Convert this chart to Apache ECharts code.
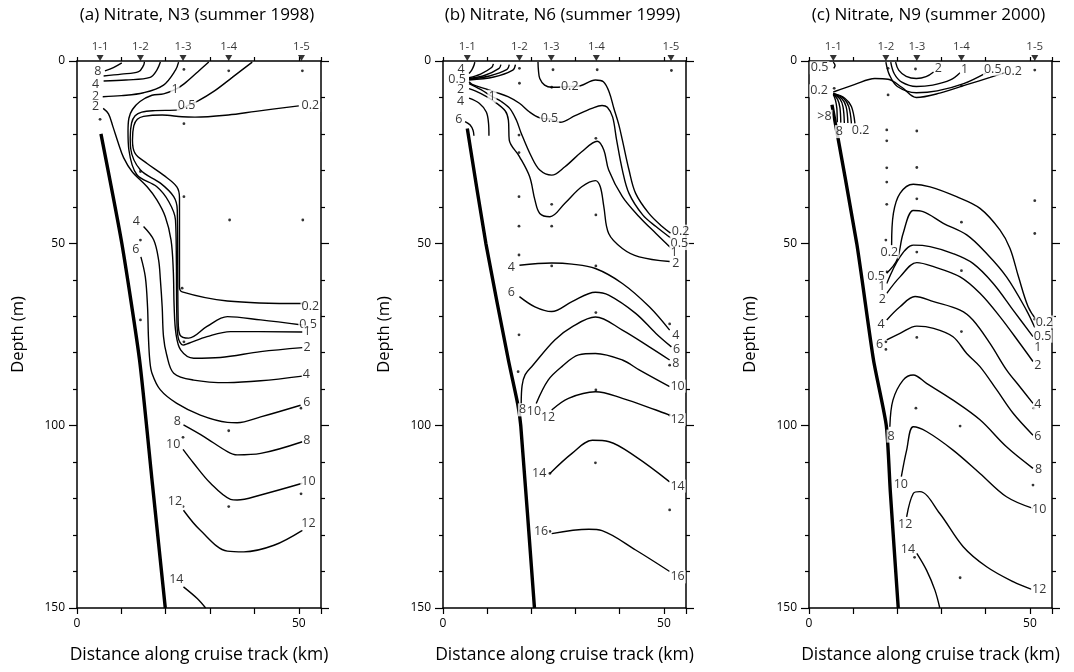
<!DOCTYPE html>
<html>
<head>
<meta charset="utf-8">
<title>Nitrate sections N3, N6, N9</title>
<script src="https://cdn.jsdelivr.net/npm/echarts@6/dist/echarts.min.js"></script>
<style>
  html, body { margin: 0; padding: 0; background: #fff; }
  #chart { width: 1074px; height: 672px; }
</style>
</head>
<body>
<div id="chart"></div>
<script>
// ---- data (km along track, depth in m) ----
const panelTitles = ['(a) Nitrate, N3 (summer 1998)', '(b) Nitrate, N6 (summer 1999)', '(c) Nitrate, N9 (summer 2000)']
const stationNames = ['1-1', '1-2', '1-3', '1-4', '1-5']
const distanceLabels = [0, 50]

const stationKmA = [5.2, 14.3, 23.9, 34.2, 50.6]
const stationKmB = [5.5, 17.3, 24.5, 34.7, 51.6]
const stationKmC = [5.5, 17.4, 24.4, 34.5, 51.1]

const bottomA = [[5.4, 20], [10.1, 50], [14.1, 82], [17, 116], [19.9, 150]]
const bottomB = [[5.5, 18.5], [9.7, 50], [14.8, 82], [16.9, 94], [17.6, 100], [20.7, 150]]
const bottomC = [[5.2, 12], [10.8, 50], [14.6, 82], [17.5, 100], [18.4, 118], [20.2, 150]]

// sample depths
const bottlesA = [[5.2, 16], [14.3, 30.3], [14.3, 49.1], [14.3, 71], [24.1, 2.3], [24.1, 17.2], [24.1, 37.2], [23.7, 62.3], [24.1, 77], [23.9, 103.2], [23.9, 122.2], [34.2, 2.7], [34.4, 43.6], [34.2, 101.4], [34.2, 122.2], [50.8, 2.7], [50.9, 43.6], [50.9, 66.5], [50.5, 95.2], [50.5, 118.7]]
const bottlesB = [[17.3, 2], [17.3, 6.1], [17.2, 20.3], [17.2, 25.1], [17.2, 37.2], [17.2, 45.3], [17.2, 53.2], [17.2, 75.1], [17, 85.2], [24.9, 2.4], [24.6, 7.2], [24.6, 39.3], [24.6, 45.3], [24.6, 56.2], [24.2, 113.1], [24.2, 129], [34.9, 2.4], [34.6, 21.2], [34.6, 42.2], [34.6, 56.2], [34.6, 69], [34.6, 90.2], [34.5, 110.2], [51.7, 2.6], [51.3, 72.1], [51.3, 83.4], [51.3, 97.1], [51.3, 123.1]]
const bottlesC = [[5.7, 7.5], [17.9, 2], [17.9, 9.3], [17.6, 18.9], [17.6, 21.9], [17.6, 29.3], [17.6, 33.2], [17.6, 39.3], [17.4, 49.1], [17.6, 57.8], [17.4, 77], [17.4, 79.1], [24.1, 2.2], [24.4, 19.2], [24.4, 29.2], [24.4, 37.8], [24.4, 52.4], [24.4, 75.8], [24.2, 95.2], [23.9, 136.1], [34.5, 6.8], [34.5, 44.2], [34.5, 57.5], [34.5, 74.2], [34.2, 100.1], [34.2, 141.7], [51.1, 2.5], [51.1, 38.3], [51.1, 47.3], [51.1, 70.8], [50.9, 95.2], [50.7, 116.3]]

// contour lines, panel (a)
const contoursA = [
  [[6.3, 2.7], [8.2, 1.8], [10.1, 0.5]],
  [[6.0, 4.1], [10, 3.6], [13.9, 2.9], [15.0, 1.2], [15.2, 0.2]],
  [[6.0, 5.5], [11, 5.2], [16.5, 4.5], [18, 2.5], [18.8, 0.3]],
  [[5.8, 9.8], [10, 9.5], [15, 8.7], [19.5, 6.6], [22.2, 2.5], [22.9, 0.3]],
  [[5.9, 13], [7.1, 14.5], [8.1, 18], [9.3, 22.5], [10.5, 26.5], [12.4, 30.3], [15.8, 34.5], [18, 38.1], [19.9, 42.7], [21.2, 49.1], [21.7, 57.3], [21.9, 67.4], [22.3, 74.7], [23.4, 79.3], [26.3, 81.5], [32.3, 81.3], [41.4, 79.7], [50.8, 78.6]],
  [[29.7, 0.3], [27.2, 3], [24.2, 6.2], [22.2, 7.8], [19.5, 9], [16.9, 9.4], [14.2, 11.1], [12.5, 13.3], [11.7, 15.7], [11.5, 19.4], [11.7, 24.4], [13.5, 31.2], [18, 34.5], [20.7, 38.6], [22.2, 43.6], [22.4, 55], [22.5, 70], [22.8, 75.8], [23.9, 77.9], [25.2, 77.4], [29.3, 75.6], [34.6, 74.2], [50.8, 74.3]],
  [[39.5, 0.3], [35, 4.5], [31, 8.2], [27.2, 11], [24.8, 12.3], [22.9, 13.4], [17.6, 13.6], [14.6, 14], [13.1, 15], [12.3, 17], [12, 21], [12.1, 24], [14.3, 29.9], [18.8, 33.5], [21.8, 37.2], [22.6, 40.8], [22.8, 71], [23.2, 75.1], [25.2, 76], [29.3, 72.8], [33.9, 70.1], [41.4, 71], [50.8, 72.4]],
  [[50, 12.3], [40.3, 13.8], [34.1, 14.8], [26.6, 15.4], [23.7, 15.3], [19.2, 14.8], [15, 15.2], [13.6, 16], [12.8, 17.8], [12.5, 21.7], [13.1, 25.3], [15.8, 28.1], [19.5, 31.3], [22.5, 34.5], [23.1, 37.5], [23.1, 61.9], [23.7, 63.3], [33.9, 65.8], [50.8, 66.5]],
  [[15, 45.4], [17.3, 49.1], [18.4, 54.6], [18.8, 60.1], [19.2, 67.4], [19.5, 75.6], [20.2, 80.5], [21.8, 85.6], [26.3, 87.5], [33.9, 88.2], [41.4, 87.7], [50.8, 86.4]],
  [[14.4, 53.7], [15.4, 59.2], [15.9, 67.4], [16.1, 75.6], [16.4, 82], [16.9, 85.6], [18.8, 90.2], [22.5, 93.9], [27.8, 97.1], [33.9, 99.1], [36.1, 99.2], [41.4, 97.6], [50.4, 94.4]],
  [[24, 99.8], [28.6, 103], [33.9, 107.1], [36.1, 108], [41.4, 107.6], [50.8, 104.4]],
  [[23.9, 106.5], [26.3, 110.3], [30.1, 115.8], [34.6, 120.2], [36.1, 120.4], [41.4, 119], [50.8, 115.8]],
  [[24, 123.2], [27.8, 128.7], [33.9, 134.4], [37.6, 134.6], [44.4, 132.8], [50.8, 128.7]],
  [[24, 144.2], [27.1, 147.4], [29, 150]]
]
const labelsA = [[4.8, 2.9, '8'], [4.3, 6.6, '4'], [4.3, 9.8, '2'], [4.3, 12.5, '2'], [22.2, 7.8, '1'], [24.8, 12.3, '0.5'], [52.7, 12.3, '0.2'],
  [52.7, 67.4, '0.2'], [52.2, 72.4, '0.5'], [52, 74.4, '1'], [52, 78.6, '2'], [13.5, 44.1, '4'], [51.8, 86.1, '4'], [13.4, 51.8, '6'], [51.9, 93.7, '6'],
  [22.7, 98.9, '8'], [51.9, 104.2, '8'], [21.8, 105.3, '10'], [52.3, 115.4, '10'], [22.2, 120.9, '12'], [52.3, 127, '12'], [22.5, 142.3, '14']]

// contour lines, panel (b)
const contoursB = [
  [[5.9, 3.4], [6.5, 2.5], [7, 1.2], [7.2, 0.3]],
  [[5.9, 4.6], [8.5, 3.6], [11, 1.8], [11.4, 0.8]],
  [[5.9, 4.8], [9.5, 3.9], [12.7, 2], [13.1, 1]],
  [[5.9, 5], [10.5, 4.1], [14.5, 2.3], [15, 1]],
  [[5.9, 5.2], [11.5, 4.4], [15.8, 2.5], [16.4, 1]],
  [[5.9, 5.7], [6.6, 6.4], [9.3, 7.5], [12, 8.6], [14.7, 9.8], [17.3, 11.6], [19.6, 14], [21.9, 15.6], [24.2, 15.9], [26.5, 16.8], [29.9, 15], [33.7, 13], [36, 12.2], [37.2, 12.7], [38.4, 15.4], [39.3, 21.7], [40.6, 29.9], [42.1, 36.3], [45.2, 42.2], [48.2, 45.4], [51.6, 48.6]],
  [[21.5, 0.3], [21.6, 2.5], [21.9, 4.8], [23, 6.6], [24.6, 7.2], [28.8, 7], [31.1, 6.8], [34.5, 5.2], [36.3, 5.7], [37.6, 8.5], [38.7, 13.1], [39.8, 17.5], [40.6, 21.7], [42.1, 29.9], [43.6, 36.3], [46.6, 41.8], [49.6, 45.4], [51.5, 47.2]],
  [[5.9, 6.2], [8.5, 7.8], [11.2, 9.8], [13.2, 11.1], [15.1, 13], [16.6, 16.2], [17.7, 19.8], [20, 26.2], [21.9, 29.9], [24.6, 31.3], [27.6, 29], [31.4, 24.9], [34.9, 22], [36.4, 24.4], [37.5, 29.9], [40.6, 37.2], [44.4, 42.7], [48.2, 47.3], [51.7, 51.4]],
  [[5.9, 7.6], [8.5, 8.9], [11.6, 11.1], [14.1, 13.7], [14.8, 16.2], [15, 21.7], [17.3, 26.2], [19.6, 31.7], [20.8, 38.1], [21.9, 41.8], [24.2, 42.7], [27.6, 39], [31.4, 34.5], [34.5, 32.8], [35.6, 34.5], [36.4, 39.9], [37.5, 47.3], [40.6, 51.4], [44.4, 53.7], [51.3, 55]],
  [[5.9, 10.2], [8.2, 11.6], [9.8, 14], [10.3, 17], [10.4, 20.5]],
  [[5, 16.6], [6.1, 17.5], [6.8, 19], [7, 20.5]],
  [[17.3, 56], [24.6, 55.4], [29.2, 55.7], [34.5, 56.9], [40.6, 61], [46.7, 67.4], [51.3, 73.8]],
  [[17.3, 64.6], [20.8, 67.4], [24.6, 68.7], [29.2, 66], [34.5, 63.4], [37.5, 64.2], [43.6, 69.2], [48.2, 74.7], [51.7, 78.4]],
  [[17.7, 94], [17.9, 89], [18.6, 86], [20.3, 83.5], [25.3, 76.5], [29.2, 72.9], [34.5, 70.2], [40.6, 73.8], [46.7, 78.4], [51.3, 82]],
  [[21.1, 93.9], [23.8, 87.5], [26.9, 83.8], [30.7, 80.6], [34.5, 80.2], [40.6, 82], [44.4, 84.7], [51.3, 89.3]],
  [[24.6, 95.7], [28.4, 92.5], [34.5, 90.7], [40.6, 92.5], [48.2, 95.7], [51.3, 97.1]],
  [[24.2, 113.1], [29.2, 107.6], [33.8, 104], [37.6, 104.4], [43.6, 108.5], [51.3, 115.4]],
  [[24.6, 129.6], [33, 128.4], [36, 128.8], [43.6, 134.1], [51.3, 140]]
]
const labelsB = [[4.2, 2.5, '4'], [3.3, 5.1, '0.5'], [4.1, 7.9, '2'], [4.1, 11.1, '4'], [3.7, 16.2, '6'], [11.2, 9.8, '1'], [24.2, 15.9, '0.5'], [28.8, 7, '0.2'],
  [53.9, 46.8, '0.2'], [53.6, 50.2, '0.5'], [52.4, 52.7, '1'], [52.8, 55.7, '2'], [15.6, 56.7, '4'], [52.8, 75.4, '4'], [15.6, 63.7, '6'], [53, 79.3, '6'],
  [18.1, 95.8, '8'], [52.8, 83, '8'], [20.7, 96.2, '10'], [53.2, 89.3, '10'], [23.9, 97.9, '12'], [53.2, 98.5, '12'], [21.9, 113.1, '14'], [53.2, 116.7, '14'], [22.3, 129.1, '16'], [53.2, 141.6, '16']]

// contour lines, panel (c)
const contoursC = [
  [[5.5, 0.3], [5.9, 1.2], [5.6, 2]],
  [[19.6, 0.3], [20.3, 2.5], [22, 4.2], [24.3, 4.8], [26.5, 4.3], [28.2, 3]],
  [[18.5, 0.3], [19.3, 3.5], [21, 5.8], [24.3, 7], [28, 6.6], [32, 5.2], [34.2, 3.2]],
  [[17.4, 0.3], [18.2, 3.8], [20, 7], [24.3, 8.7], [29, 8.2], [35, 6.2], [40, 3.3]],
  [[5.5, 8.5], [10.4, 6.4], [14.9, 4.8], [17.9, 5], [21, 7.2], [24.3, 10], [29.6, 8.8], [35.7, 6.5], [41, 4.5], [44.6, 3.1]],
  [[5.5, 9.2], [6, 10.8], [6.3, 13], [6.4, 16.8]],
  [[5.5, 9.1], [6.5, 10.6], [7, 12.8], [7.2, 16.9]],
  [[5.5, 9], [7, 10.4], [7.7, 12.6], [8, 17]],
  [[5.5, 9], [7.4, 10.3], [8.4, 12.5], [8.8, 17]],
  [[5.5, 8.9], [7.8, 10.2], [9, 12.5], [9.6, 17.1]],
  [[5.5, 8.9], [8.1, 10.2], [9.6, 12.5], [10.4, 17.1]],
  [[18.7, 50.5], [19.1, 41.8], [20.6, 36.3], [23.6, 33.8], [27.4, 34.5], [33.4, 37.2], [38.7, 40.4], [43.2, 46.3], [45.5, 51.4], [47.4, 59.1], [49.6, 67.4], [51.5, 71]],
  [[17.6, 58.2], [19.9, 54.6], [21.3, 47.3], [23.6, 41], [25.8, 41.3], [30.4, 44.5], [35.7, 47.7], [40.2, 52.8], [44.7, 59.2], [49.2, 68.3], [51.1, 73.1]],
  [[17.6, 61], [20.6, 53.7], [23.6, 50.5], [27.4, 50.9], [32.6, 52.8], [37.1, 55.5], [41.7, 61], [46.2, 68.3], [50.7, 75.6]],
  [[17.6, 63.7], [20.6, 59.2], [24.4, 55.3], [28.2, 56.4], [34.2, 59.2], [38.7, 63.7], [43.2, 70.1], [47.7, 77.4], [50.7, 82.4]],
  [[17.6, 71], [20.6, 67.4], [24, 64.6], [28.2, 66], [34.2, 68.3], [37.1, 71], [41, 77.5], [44.7, 84.7], [47.5, 89], [50.7, 93.9]],
  [[17.6, 76.5], [20.6, 74.7], [24.4, 72.7], [28.2, 73.3], [32.6, 75.6], [35.7, 80.2], [38.7, 83.8], [42.5, 90.2], [46.2, 96.6], [50.7, 102.6]],
  [[18.3, 100.3], [19, 93], [21.3, 87.5], [23.6, 86.1], [26.6, 88.4], [32.6, 93], [38.7, 98.4], [44.7, 105.8], [50.7, 111.7]],
  [[20.9, 114], [22.1, 106.7], [23.6, 100.3], [26.6, 101.6], [32.6, 106.7], [38.7, 113.1], [44.7, 119.5], [50.7, 122.7]],
  [[22.1, 125], [23.6, 118.6], [25.1, 118.1], [29.6, 124.1], [34.9, 133.2], [40.2, 138.7], [46.2, 142.8], [50.4, 144.9]],
  [[24.4, 135], [26.6, 139.6], [28.5, 145.1], [29.6, 150]]
]
const labelsC = [[2.5, 2, '0.5'], [29.4, 2.2, '2'], [35.3, 2.5, '1'], [41.7, 2.4, '0.5'], [46.3, 3, '0.2'], [2.4, 8.3, '0.2'], [3.6, 15.3, '>8'], [7, 19.5, '8'], [11.8, 19.2, '0.2'],
  [18.3, 52.5, '0.2'], [53.4, 71.7, '0.2'], [15.3, 59.2, '0.5'], [53, 75.6, '0.5'], [16.6, 61.9, '1'], [51.9, 78.8, '1'], [16.7, 65.5, '2'], [51.9, 83.6, '2'],
  [16.4, 72.4, '4'], [51.9, 94.4, '4'], [16.1, 77.9, '6'], [51.9, 103.2, '6'], [18.7, 103, '8'], [52.1, 112.1, '8'], [20.9, 116.3, '10'], [52.2, 123.1, '10'],
  [21.9, 127.3, '12'], [52.2, 145.1, '12'], [22.5, 134.1, '14']]

// ---- chart ----
const FONT = '"Open Sans", "Noto Sans", sans-serif'
const INK = '#000'
const grids = [
  { left: 77, top: 61, width: 244, height: 547 },
  { left: 443, top: 61, width: 243, height: 547 },
  { left: 809, top: 61, width: 243, height: 547 }
]

const xAxes = []
const yAxes = []
grids.forEach((grid, g) => {
  const line = { show: true, onZero: false, lineStyle: { color: INK, width: 1.5 } }
  xAxes.push({
    gridIndex: g, type: 'value', min: 0, max: 55, interval: 10, position: 'bottom',
    axisLine: line,
    axisTick: { show: true, length: 6, lineStyle: { color: INK, width: 1.2 } },
    axisLabel: { formatter: v => distanceLabels.includes(v) ? String(v) : '', fontSize: 12, margin: 10, color: INK, fontFamily: FONT },
    splitLine: { show: false },
    name: 'Distance along cruise track (km)', nameLocation: 'middle', nameGap: 38,
    nameTextStyle: { fontSize: 17.5, color: INK, fontFamily: FONT }
  })
  xAxes.push({
    gridIndex: g, type: 'value', min: 0, max: 55, interval: 10, position: 'top',
    axisLine: line,
    axisTick: { show: true, length: 4, lineStyle: { color: INK, width: 1.2 } },
    axisLabel: { show: false },
    splitLine: { show: false }
  })
  const tickBits = {
    axisLine: line,
    axisTick: { show: true, length: 8, lineStyle: { color: INK, width: 1.2 } },
    minorTick: { show: true, splitNumber: 5, length: 4, lineStyle: { color: INK, width: 1.2 } },
    splitLine: { show: false },
    minorSplitLine: { show: false }
  }
  yAxes.push(Object.assign({
    gridIndex: g, type: 'value', inverse: true, min: 0, max: 150, interval: 50, position: 'left',
    axisLabel: { fontSize: 12, margin: 12, color: INK, fontFamily: FONT },
    name: 'Depth (m)', nameLocation: 'middle', nameGap: 50,
    nameTextStyle: { fontSize: 16.5, color: INK, fontFamily: FONT }
  }, tickBits))
  yAxes.push(Object.assign({
    gridIndex: g, type: 'value', inverse: true, min: 0, max: 150, interval: 50, position: 'right',
    axisLabel: { show: false }
  }, tickBits))
})

function panelSeries(g, contours, labels, bottles, bottom, stationKm) {
  const axes = { xAxisIndex: 2 * g, yAxisIndex: 2 * g }
  const out = contours.map(pts => Object.assign({
    type: 'line', data: pts, smooth: 0.35, showSymbol: false, silent: true, z: 2,
    lineStyle: { color: INK, width: 1.4 }
  }, axes))
  out.push(Object.assign({
    type: 'line', data: bottom, smooth: 0.2, showSymbol: false, silent: true, z: 3,
    lineStyle: { color: INK, width: 3.4 }
  }, axes))
  out.push(Object.assign({
    type: 'scatter', data: bottles, symbolSize: 2.8, silent: true, z: 3,
    itemStyle: { color: INK }
  }, axes))
  out.push(Object.assign({
    type: 'scatter', symbolSize: 1, silent: true, z: 6,
    data: labels.map(l => ({ value: [l[0], l[1]], name: l[2] })),
    itemStyle: { color: '#fff' },
    label: {
      show: true, position: [0, 0], align: 'center', verticalAlign: 'middle', formatter: '{b}',
      fontSize: 12.5, color: INK, fontFamily: FONT, textBorderWidth: 0,
      backgroundColor: '#fff', padding: [0, 1]
    }
  }, axes))
  out.push(Object.assign({
    type: 'scatter', clip: false, silent: true, z: 6,
    symbol: 'triangle', symbolRotate: 180, symbolSize: [7, 6], symbolOffset: [0, -3],
    itemStyle: { color: INK },
    data: stationKm.map((x, i) => ({ value: [x, 0], name: stationNames[i] })),
    label: { show: true, position: 'top', distance: 2, formatter: '{b}', fontSize: 11.5, color: INK, fontFamily: FONT, textBorderWidth: 0 }
  }, axes))
  return out
}

const series = [].concat(
  panelSeries(0, contoursA, labelsA, bottlesA, bottomA, stationKmA),
  panelSeries(1, contoursB, labelsB, bottlesB, bottomB, stationKmB),
  panelSeries(2, contoursC, labelsC, bottlesC, bottomC, stationKmC)
)

const chart = echarts.init(document.getElementById('chart'))
chart.setOption({
  animation: false,
  backgroundColor: '#fff',
  textStyle: { fontFamily: FONT },
  grid: grids,
  xAxis: xAxes,
  yAxis: yAxes,
  graphic: panelTitles.map((t, g) => ({
    type: 'text', x: grids[g].left + grids[g].width / 2 - 2, y: 15,
    style: { text: t, fontSize: 17, fill: INK, fontFamily: FONT, align: 'center', verticalAlign: 'middle' }
  })),
  series
})
</script>
</body>
</html>
